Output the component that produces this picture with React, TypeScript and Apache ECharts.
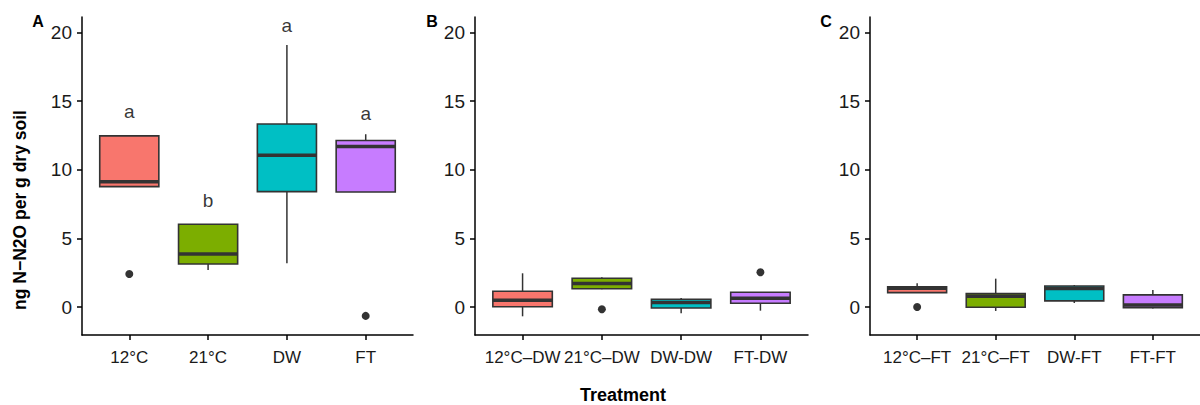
import React, { useEffect, useRef } from "react";
import * as echarts from "echarts";

// ---- data ----
const categoriesA = ["12°C", "21°C", "DW", "FT"];
const categoriesB = ["12°C–DW", "21°C–DW", "DW-DW", "FT-DW"];
const categoriesC = ["12°C–FT", "21°C–FT", "DW-FT", "FT-FT"];

// [min, Q1, median, Q3, max]
const boxA = [
  [8.78, 8.78, 9.14, 12.47, 12.47],
  [2.71, 3.15, 3.88, 6.04, 6.04],
  [3.2, 8.41, 11.06, 13.33, 19.09],
  [8.39, 8.39, 11.69, 12.13, 12.59],
];
const boxB = [
  [-0.66, 0.04, 0.51, 1.16, 2.47],
  [1.31, 1.35, 1.72, 2.11, 2.18],
  [-0.44, -0.05, 0.34, 0.58, 0.68],
  [-0.25, 0.29, 0.65, 1.09, 1.1],
];
const boxC = [
  [1.06, 1.06, 1.38, 1.48, 1.75],
  [-0.27, 0.0, 0.8, 0.99, 2.08],
  [0.31, 0.46, 1.36, 1.55, 1.62],
  [-0.1, -0.03, 0.17, 0.9, 1.26],
];

// [category index, value]
const outliersA = [[0, 2.42], [3, -0.63]];
const outliersB = [[1, -0.15], [3, 2.55]];
const outliersC = [[0, 0.02]];

const lettersA = ["a", "b", "a", "a"];
const letterPosA = [14.25, 7.8, 20.5, 14.1];

const yTicks = [0, 5, 10, 15, 20];
const fillColors = ["#F8766D", "#7CAE00", "#00BFC4", "#C77CFF"];

const FONT = "'Liberation Sans', Arial, Helvetica, sans-serif";

function boxSeries(gi: number, box: number[][]) {
  return {
    type: "custom",
    xAxisIndex: gi,
    yAxisIndex: gi,
    encode: { x: 0, y: [1, 2, 3, 4, 5] },
    data: box.map((b, i) => [i, ...b]),
    renderItem: (params: any, api: any) => {
      const x = api.value(0);
      const lo = api.coord([x, api.value(1)]);
      const q1 = api.coord([x, api.value(2)]);
      const med = api.coord([x, api.value(3)]);
      const q3 = api.coord([x, api.value(4)]);
      const hi = api.coord([x, api.value(5)]);
      const w = api.size([0.75, 0])[0];
      const color = fillColors[params.dataIndex % fillColors.length];
      const lineStyle = { stroke: "#333333", lineWidth: 1.5 };
      return {
        type: "group",
        children: [
          { type: "line", shape: { x1: hi[0], y1: hi[1], x2: q3[0], y2: q3[1] }, style: lineStyle },
          { type: "line", shape: { x1: lo[0], y1: lo[1], x2: q1[0], y2: q1[1] }, style: lineStyle },
          {
            type: "rect",
            shape: { x: q3[0] - w / 2, y: q3[1], width: w, height: q1[1] - q3[1] },
            style: { fill: color, stroke: "#333333", lineWidth: 1.6 },
          },
          {
            type: "line",
            shape: { x1: med[0] - w / 2, y1: med[1], x2: med[0] + w / 2, y2: med[1] },
            style: { stroke: "#333333", lineWidth: 3.5 },
          },
        ],
      };
    },
  };
}

function outlierSeries(gi: number, pts: number[][]) {
  return {
    type: "scatter",
    xAxisIndex: gi,
    yAxisIndex: gi,
    symbolSize: 8,
    itemStyle: { color: "#333333", opacity: 1 },
    data: pts,
  };
}

export default function App() {
  const ref = useRef<HTMLDivElement>(null);
  useEffect(() => {
    if (!ref.current) return;
    const chart = echarts.init(ref.current, undefined, { renderer: "svg" });
    const grids = [
      { left: 82, top: 17, width: 331, height: 318 },
      { left: 475, top: 17, width: 333, height: 318 },
      { left: 870, top: 17, width: 330, height: 318 },
    ];
    const cats = [categoriesA, categoriesB, categoriesC];
    const xAxes = cats.map((c, i) => ({
      type: "value",
      gridIndex: i,
      min: -0.6,
      max: 3.6,
      splitLine: { show: false },
      axisLine: { show: true, onZero: false, lineStyle: { color: "#000", width: 1.5 } },
      axisTick: {
        show: true,
        length: 5,
        customValues: [0, 1, 2, 3],
        lineStyle: { color: "#000", width: 1.5 },
      },
      axisLabel: {
        customValues: [0, 1, 2, 3],
        formatter: (v: number) => c[Math.round(v)] ?? "",
        color: "#1a1a1a",
        fontSize: 17,
        fontFamily: FONT,
        margin: 14,
        hideOverlap: false,
        showMinLabel: true,
        showMaxLabel: true,
      },
    }));
    const yAxes = cats.map((_, i) => ({
      type: "value",
      gridIndex: i,
      min: -2.02,
      max: 21.12,
      splitLine: { show: false },
      axisLine: { show: true, onZero: false, lineStyle: { color: "#000", width: 1.5 } },
      axisTick: {
        show: true,
        length: 5,
        customValues: yTicks,
        lineStyle: { color: "#000", width: 1.5 },
      },
      axisLabel: {
        customValues: yTicks,
        color: "#1a1a1a",
        fontSize: 19,
        fontFamily: FONT,
        margin: 10,
      },
    }));
    const option: any = {
      animation: false,
      backgroundColor: "#ffffff",
      grid: grids,
      xAxis: xAxes,
      yAxis: yAxes,
      series: [
        boxSeries(0, boxA),
        boxSeries(1, boxB),
        boxSeries(2, boxC),
        outlierSeries(0, outliersA),
        outlierSeries(1, outliersB),
        outlierSeries(2, outliersC),
        {
          type: "scatter",
          xAxisIndex: 0,
          yAxisIndex: 0,
          symbolSize: 1,
          itemStyle: { color: "rgba(0,0,0,0)" },
          data: letterPosA.map((v, i) => [i, v]),
          label: {
            show: true,
            position: "inside",
            formatter: (p: any) => lettersA[p.dataIndex],
            color: "#000",
            fontSize: 19,
            fontFamily: FONT,
          },
        },
      ],
      graphic: [
        { type: "text", x: 38, y: 21, style: { text: "A", font: `bold 16px ${FONT}`, fill: "#000", align: "center", verticalAlign: "middle" } },
        { type: "text", x: 432, y: 21, style: { text: "B", font: `bold 16px ${FONT}`, fill: "#000", align: "center", verticalAlign: "middle" } },
        { type: "text", x: 826, y: 21, style: { text: "C", font: `bold 16px ${FONT}`, fill: "#000", align: "center", verticalAlign: "middle" } },
        {
          type: "text",
          x: 20,
          y: 210,
          rotation: Math.PI / 2,
          style: { text: "ng N−N2O per g dry soil", font: `bold 17.5px ${FONT}`, fill: "#000", align: "center", verticalAlign: "middle" },
        },
        {
          type: "text",
          x: 623,
          y: 395,
          style: { text: "Treatment", font: `bold 18px ${FONT}`, fill: "#000", align: "center", verticalAlign: "middle" },
        },
      ],
    };
    chart.setOption(option);
    return () => chart.dispose();
  }, []);
  return (
    <div
      ref={ref}
      style={{ position: "fixed", left: 0, top: 0, width: 1200, height: 405, background: "#fff" }}
    />
  );
}
